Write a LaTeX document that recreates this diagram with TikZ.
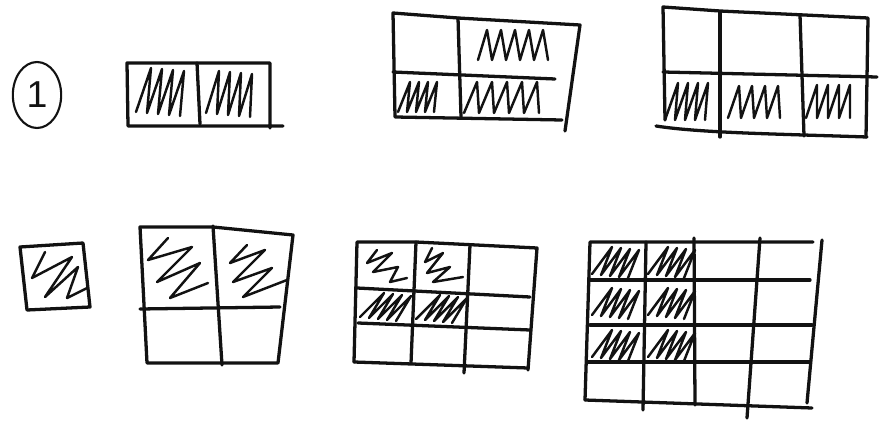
\documentclass[tikz,border=0pt]{standalone}
\usepackage{fontspec}
\newfontfamily\handfont{Liberation Sans}
\usepackage{tikz}
\usetikzlibrary{shapes.geometric}
\usepackage{xcolor}
\definecolor{ink}{RGB}{18,18,18}
% zigzag scribble: start x,y / stroke vx,vy / step sx,sy / number of strokes
\newcommand{\zig}[7]{%
  \draw[fillzig] (#1,#2) \foreach \i in {1,...,#7} {
    -- ({(#1)+(\i-1)*(#5)+(#3)},{(#2)+(\i-1)*(#6)+(#4)})
    -- ({(#1)+\i*(#5)},{(#2)+\i*(#6)}) };}

\begin{document}
\begin{tikzpicture}[x=0.03cm, y=-0.03cm,
  boxline/.style={ink, line width=2.8pt, line cap=round, line join=round},
  fillzig/.style={ink, line width=2.1pt, line cap=round, line join=round}]
  \useasboundingbox (0,0) rectangle (881,429);
  % Number in a ring
  \node[draw, ellipse, ink, line width=1.8pt, minimum width=1.45cm, minimum height=1.98cm,
        inner sep=0pt, font={\handfont\fontsize{32}{32}\selectfont}] (num) at (37,95) {1};
  % Top row: 2/2
  \draw[boxline] (283,126) -- (128,126) -- (127,63) -- (270,63) -- (270,128);
  \draw[boxline] (197,63) -- (200,124);
  \zig{136}{112}{15}{-44}{11}{1}{4}
  \zig{206}{113}{13}{-42}{11}{1}{4}
  % Top row: 3/4
  \draw[boxline] (562,120) -- (395,117) -- (393,13) -- (458,18) -- (580,25) -- (565,131);
  \draw[boxline] (393,72) -- (555,79);
  \draw[boxline] (458,18) -- (461,117);
  \zig{478}{60}{9}{-30}{14}{0}{5}
  \zig{398}{112}{12}{-30}{9}{0}{4}
  \zig{464}{113}{13}{-31}{15}{0}{5}
  % Top row: 3/6
  \draw[boxline] (665,120) -- (663,7) -- (720,11) -- (868,18) -- (866,137);
  \draw[boxline] (656,126) .. controls (700,133) and (780,134) .. (867,137);
  \draw[boxline] (663,72) -- (877,77);
  \draw[boxline] (720,12) -- (720,137);
  \draw[boxline] (800,15) -- (804,136);
  \zig{665}{120}{13}{-37}{10}{0}{4}
  \zig{728}{118}{11}{-32}{13}{0}{4}
  \zig{806}{118}{11}{-33}{11}{0}{4}
  % Bottom row: 1
  \draw[boxline] (20,247) -- (83,243) -- (90,307) -- (27,310) -- cycle;
  \draw[fillzig] (45,252) -- (32,278) -- (72,257) -- (45,297) -- (78,267)
    -- (67,298) -- (87,288);
  % Bottom row: 2/4
  \draw[boxline] (140,227) -- (213,227) -- (293,235) -- (278,363) -- (147,363) -- cycle;
  \draw[boxline] (140,309) -- (280,307);
  \draw[boxline] (213,226) -- (222,365);
  \draw[fillzig] (168,238) -- (148,260) -- (192,247) -- (157,282) -- (200,263)
    -- (170,298) -- (208,283);
  \draw[fillzig] (247,245) -- (230,263) -- (265,250) -- (233,282) -- (272,268)
    -- (243,297) -- (287,280);
  % Bottom row: 4/9
  \draw[boxline] (354,362) -- (357,242) -- (416,242) -- (537,248) -- (528,370);
  \draw[boxline] (354,362) -- (528,368);
  \draw[boxline] (357,288) -- (530,297);
  \draw[boxline] (358,323) -- (530,330);
  \draw[boxline] (416,242) -- (411,363);
  \draw[boxline] (470,245) -- (464,373);
  \draw[fillzig] (377,250) -- (367,263) -- (392,253) -- (373,272) -- (398,267)
    -- (390,282) -- (407,278);
  \draw[fillzig] (432,248) -- (425,262) -- (443,253) -- (427,273) -- (450,267)
    -- (433,282) -- (463,277);
  \zig{360}{317}{24}{-24}{9}{1}{4}
  \zig{416}{319}{24}{-24}{9}{1}{4}
  % Bottom row: 6/16
  \draw[boxline] (585,400) -- (590,242) -- (646,242) -- (813,242);
  \draw[boxline] (822,240) -- (807,403);
  \draw[boxline] (590,280) -- (810,280);
  \draw[boxline] (590,325) -- (812,325);
  \draw[boxline] (587,362) -- (810,362);
  \draw[boxline] (585,400) -- (812,408);
  \draw[boxline] (646,242) -- (643,410);
  \draw[boxline] (694,238) -- (695,405);
  \draw[boxline] (760,238) -- (747,418);
  \foreach \cx in {590,646} {
    \foreach \cy in {242,283,325} {
      \zig{\cx+2}{\cy+32}{20}{-27}{9}{1}{4}
    }
  }
\end{tikzpicture}
\end{document}
